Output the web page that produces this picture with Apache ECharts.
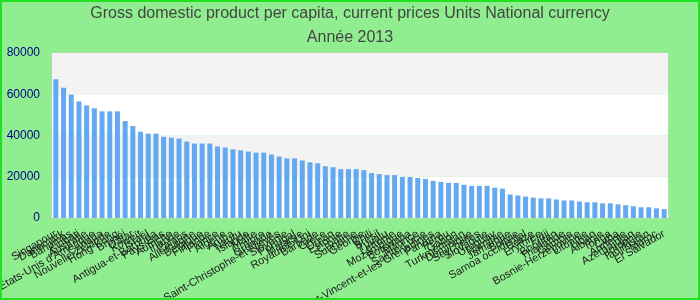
<!DOCTYPE html>
<html>
<head>
<meta charset="utf-8">
<script src="https://cdn.jsdelivr.net/npm/echarts@6/dist/echarts.min.js"></script>
<style>
  html, body { margin: 0; padding: 0; }
  #main { width: 700px; height: 300px; box-sizing: border-box; border: 2px solid #22e022; background: #90ee90; }
</style>
</head>
<body>
<div id="main"></div>
<script>
// pays (libellés de l'axe x)
var countries = [
  'Singapour', 'Danemark', 'Bahamas', 'Kiribati', 'Australie', "Etats-Unis d'Amérique", 'Canada', 'Nouvelle-Zélande', 'Hong-Kong', 'Brunéi',
  'Qatar', 'Koweït', 'Israël', 'Antigua-et-Barbuda', 'Pays-Bas', 'Autriche', 'Irlande', 'Palaos', 'Allemagne', 'Belgique',
  'Finlande', 'France', 'Algérie', 'Aruba', 'Nauru', 'Islande', 'Malte', 'Chypre', 'Grenade', 'Saint-Christophe-et-Niévès',
  'Slovénie', 'Portugal', 'Malaisie', 'Royaume-Uni', 'Barbade', 'Grèce', 'Oman', 'Estonie', 'Croatie', 'Suriname',
  'Géorgie', 'Chili', 'Brésil', 'Tuvalu', 'Lettonie', 'Mozambique', 'Botswana', 'Maurice', 'Sainte-Lucie', 'Saint-Vincent-et-les Grenadines',
  'Panama', 'Pérou', 'Gabon', 'Turkménistan', 'Dominique', 'Seychelles', 'Slovaquie', 'Uruguay', 'Namibie', 'Jamaïque',
  'Bolivie', 'Samoa occidental', 'Belize', 'Erythrée', 'Fidji', 'Bhoutan', 'Thaïlande', 'Gambie', 'Bosnie-Herzégovine', 'Lituanie',
  'Liban', 'Albanie', 'Tonga', 'Cuba', 'Arménie', 'Azerbaïdjan', 'Jordanie', 'Tadjikistan', 'Maroc', 'El Salvador'
];

// PIB par habitant (monnaie nationale)
var gdpValues = [
  67300, 63100, 59800, 56500, 54600, 53200, 51700, 51700, 51700, 47000,
  44600, 41800, 40900, 40900, 39400, 38950, 38500, 37050, 36100, 36100,
  36100, 34700, 34200, 33300, 32800, 32200, 31700, 31700, 30800, 29800,
  28900, 28900, 27900, 27000, 26500, 25100, 24600, 23700, 23700, 23700,
  23200, 21800, 21300, 20800, 20800, 19900, 19900, 19400, 18900, 18000,
  17500, 17000, 17000, 16100, 15600, 15600, 15600, 14700, 14200, 11400,
  10900, 10400, 9900, 9500, 9500, 9000, 8500, 8500, 8000, 7600,
  7600, 7100, 7100, 6600, 6200, 5700, 5200, 5200, 4700, 4300
];

var yTicks = [0, 20000, 40000, 60000, 80000];

var titleLines = ['Gross domestic product per capita, current prices Units National currency', 'Année 2013'];

var myChart = echarts.init(document.getElementById('main'));
var option = {
  animation: false,
  title: {
    text: titleLines.join('\n'),
    left: 'center',
    top: -5,
    textStyle: {
      fontFamily: 'Liberation Sans',
      fontSize: 16,
      fontWeight: 'normal',
      color: '#444',
      lineHeight: 24
    }
  },
  grid: {
    left: 50,
    right: 30,
    top: 51,
    bottom: 80,
    containLabel: false,
    outerBoundsMode: 'none',
    show: true,
    borderColor: '#cccccc',
    borderWidth: 1
  },
  xAxis: {
    type: 'category',
    data: countries,
    axisTick: { show: false },
    axisLine: { show: false },
    axisLabel: {
      interval: 0,
      rotate: 30,
      margin: 15,
      color: '#222',
      fontFamily: 'Liberation Sans',
      fontSize: 11
    }
  },
  yAxis: {
    type: 'value',
    min: yTicks[0],
    max: yTicks[yTicks.length - 1],
    interval: 20000,
    axisLine: { show: false },
    axisTick: { show: false },
    splitLine: { show: false },
    splitArea: {
      show: true,
      areaStyle: { color: ['#ffffff', '#f3f3f3'] }
    },
    axisLabel: {
      margin: 12,
      color: '#00008b',
      fontFamily: 'Liberation Sans',
      fontSize: 12,
      formatter: function (v) { return String(v); }
    }
  },
  series: [
    {
      type: 'bar',
      data: gdpValues,
      barCategoryGap: '35%',
      itemStyle: { color: '#63a9f1' }
    }
  ]
};
myChart.setOption(option);
</script>
</body>
</html>
